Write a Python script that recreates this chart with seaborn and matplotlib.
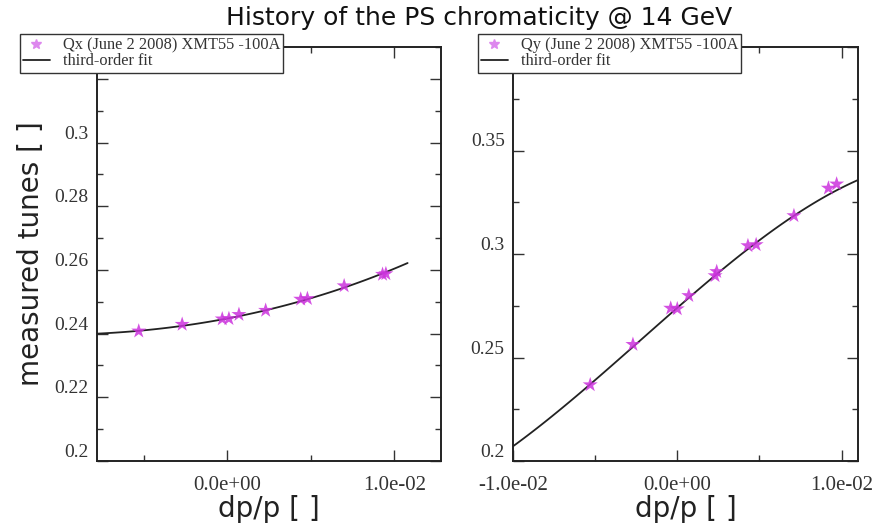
import matplotlib
matplotlib.use("Agg")
import matplotlib.pyplot as plt
from matplotlib.lines import Line2D
from matplotlib.ticker import MultipleLocator, FixedLocator
import seaborn as sns
import pandas as pd

# ---- measured points ----
qx_dpp = [-0.0053, -0.0027, -0.0003, 0.0001, 0.0007, 0.0023, 0.0044, 0.0048, 0.0070, 0.0093, 0.0095]
qx_tune = [0.2408, 0.2429, 0.2446, 0.2447, 0.2460, 0.2473, 0.2508, 0.2510, 0.2550, 0.2586, 0.2588]

qy_dpp = [-0.0053, -0.0027, -0.0004, 0.0000, 0.0007, 0.0023, 0.0024, 0.0043, 0.0048, 0.0071, 0.0092, 0.0097]
qy_tune = [0.2368, 0.2563, 0.2738, 0.2735, 0.2799, 0.2895, 0.2915, 0.3040, 0.3045, 0.3185, 0.3318, 0.3338]

# ---- third-order fit curves ----
qx_fit_dpp = [-0.0078, -0.0053, -0.0027, 0.0, 0.0023, 0.0046, 0.0070, 0.0093, 0.0108]
qx_fit_tune = [0.2400, 0.2408, 0.2426, 0.2447, 0.2471, 0.2507, 0.2546, 0.2586, 0.2623]

qy_fit_dpp = [-0.0100, -0.0053, -0.0027, 0.0, 0.00235, 0.0046, 0.0071, 0.00945, 0.0110]
qy_fit_tune = [0.2072, 0.2364, 0.2560, 0.2738, 0.2901, 0.3038, 0.3182, 0.3306, 0.3353]

left_xticks = [0.0, 0.01]
left_xlabels = ["0.0e+00", "1.0e-02"]
right_xticks = [-0.01, 0.0, 0.01]
right_xlabels = ["-1.0e-02", "0.0e+00", "1.0e-02"]
left_yticks = [0.2, 0.22, 0.24, 0.26, 0.28, 0.3, 0.32]
left_ylabels = ["0.2", "0.22", "0.24", "0.26", "0.28", "0.3", ""]
right_yticks = [0.2, 0.25, 0.3, 0.35, 0.4]
right_ylabels = ["0.2", "0.25", "0.3", "0.35", ""]

qx_label = "Qx (June 2 2008) XMT55 -100A"
qy_label = "Qy (June 2 2008) XMT55 -100A"
fit_label = "third-order fit"
title = "History of the PS chromaticity @ 14 GeV"
xlabel = "dp/p [ ]"
ylabel = "measured tunes [ ]"

df_x = pd.DataFrame({"dpp": qx_dpp, "tune": qx_tune})
df_y = pd.DataFrame({"dpp": qy_dpp, "tune": qy_tune})
fit_x = pd.DataFrame({"dpp": qx_fit_dpp, "tune": qx_fit_tune})
fit_y = pd.DataFrame({"dpp": qy_fit_dpp, "tune": qy_fit_tune})

sns.set_style("ticks")
plt.rcParams["font.family"] = ["DejaVu Sans"]

star_color = "#cc33dd"
fig = plt.figure(figsize=(8.81, 5.28), dpi=100)
axL = fig.add_axes([97 / 881, 1 - 461 / 528, (441 - 97) / 881, (461 - 47) / 528])
axR = fig.add_axes([513 / 881, 1 - 461 / 528, (858 - 513) / 881, (461 - 47) / 528])

serif = "Liberation Serif"


def setup(ax, df, fit, xlim, ylim, xt, xl, yt, yl, xminor, yminor):
    ax.set_xlim(*xlim)
    ax.set_ylim(*ylim)
    sns.regplot(data=fit, x="dpp", y="tune", order=3, ci=None, scatter=False,
                truncate=True, ax=ax, line_kws=dict(color="#222222", lw=1.3))
    sns.scatterplot(data=df, x="dpp", y="tune", marker="*", s=130, color=star_color,
                    edgecolor="none", alpha=0.85, ax=ax, zorder=3)
    ax.set_xlim(*xlim)
    ax.set_ylim(*ylim)
    ax.xaxis.set_major_locator(FixedLocator(xt))
    ax.set_xticklabels(xl)
    ax.yaxis.set_major_locator(FixedLocator(yt))
    ax.set_yticklabels(yl)
    ax.xaxis.set_minor_locator(MultipleLocator(xminor))
    ax.yaxis.set_minor_locator(MultipleLocator(yminor))
    ax.tick_params(which="both", direction="in", top=True, right=True, color="#333333")
    ax.tick_params(which="major", length=8, width=1.0)
    ax.tick_params(which="minor", length=4, width=1.0)
    ax.tick_params(axis="x", which="major", labelsize=15, pad=11)
    ax.tick_params(axis="y", which="major", labelsize=14, pad=6)
    for t in ax.get_xticklabels() + ax.get_yticklabels():
        t.set_fontfamily(serif)
        t.set_color("#333333")
    for t in ax.get_yticklabels():
        t.set_verticalalignment("bottom")
    for sp in ax.spines.values():
        sp.set_visible(True)
        sp.set_linewidth(1.4)
        sp.set_color("#222222")
    ax.set_xlabel(xlabel, fontsize=20, labelpad=0, color="#222222")
    ax.set_ylabel("")
    handles = [
        Line2D([], [], marker="*", linestyle="none", color="#dd88ee", markersize=7),
        Line2D([], [], color="#222222", lw=1.3),
    ]
    return handles


hL = setup(axL, df_x, fit_x, (-0.0078, 0.0128), (0.2, 0.33), left_xticks, left_xlabels,
           left_yticks, left_ylabels, 0.005, 0.01)
hR = setup(axR, df_y, fit_y, (-0.01, 0.011), (0.2, 0.4), right_xticks, right_xlabels,
           right_yticks, right_ylabels, 0.005, 0.025)

axL.set_ylabel(ylabel, fontsize=20, labelpad=7, color="#222222")

for ax, h, lab, x0 in [(axL, hL, qx_label, 20 / 881), (axR, hR, qy_label, 478 / 881)]:
    leg = fig.legend(h, [lab, fit_label], loc="upper left", bbox_to_anchor=(x0, 1 - 34 / 528),
                     prop={"family": serif, "size": 11.8}, frameon=True, fancybox=False,
                     edgecolor="#333333", framealpha=1, borderpad=0.2, labelspacing=0.0,
                     handlelength=1.6, handletextpad=0.8, borderaxespad=0)
    leg.get_frame().set_linewidth(1.0)
    for t in leg.get_texts():
        t.set_color("#333333")

fig.text(0.544, 0.966, title, ha="center", va="center", fontsize=18, color="#111111")

fig.savefig("out.png", dpi=100)
